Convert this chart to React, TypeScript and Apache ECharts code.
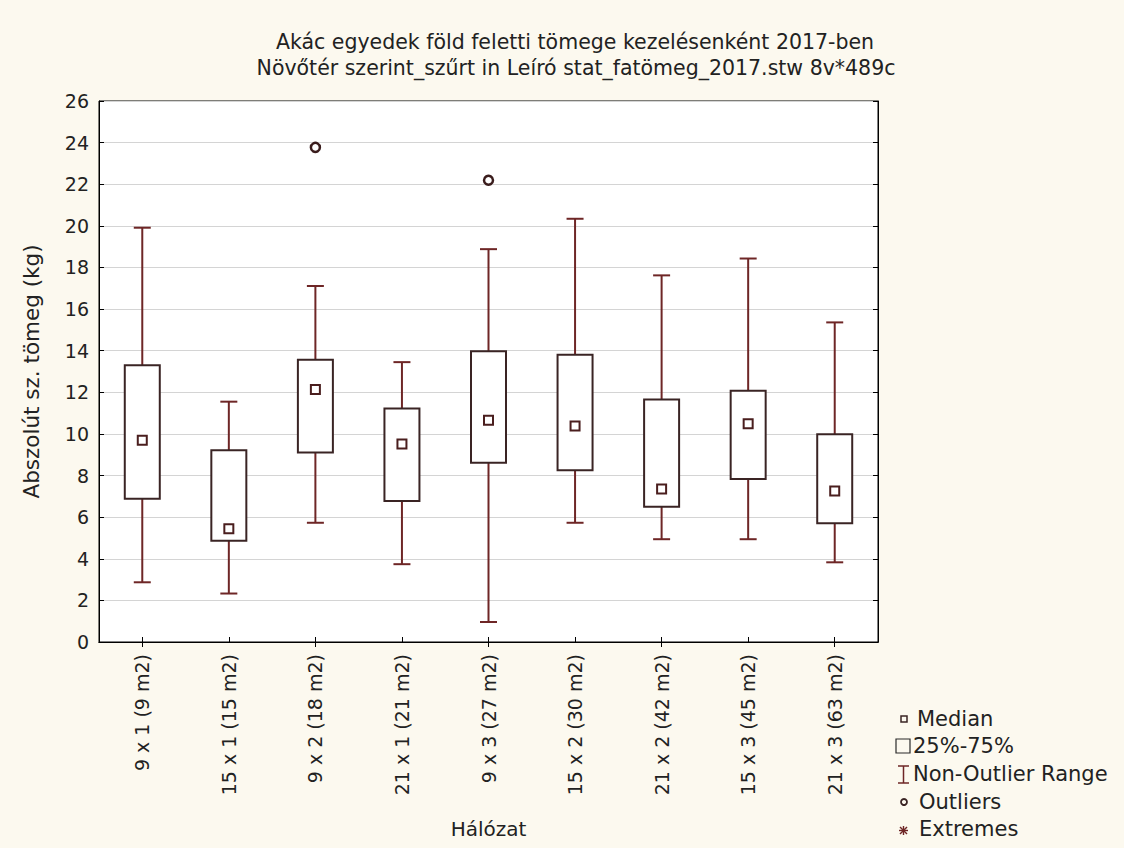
import React, { useEffect, useRef } from "react";
import * as echarts from "echarts";

const categories = [
  "9 x 1 (9 m2)",
  "15 x 1 (15 m2)",
  "9 x 2 (18 m2)",
  "21 x 1 (21 m2)",
  "9 x 3 (27 m2)",
  "15 x 2 (30 m2)",
  "21 x 2 (42 m2)",
  "15 x 3 (45 m2)",
  "21 x 3 (63 m2)",
];
const whiskerLow = [2.87, 2.33, 5.73, 3.74, 0.96, 5.73, 4.94, 4.94, 3.83];
const q1 = [6.88, 4.86, 9.11, 6.78, 8.62, 8.25, 6.5, 7.83, 5.71];
const median = [9.7, 5.44, 12.13, 9.52, 10.66, 10.38, 7.35, 10.49, 7.26];
const q3 = [13.3, 9.22, 13.57, 11.22, 13.97, 13.81, 11.65, 12.08, 9.99];
const whiskerHigh = [19.91, 11.55, 17.11, 13.45, 18.88, 20.34, 17.62, 18.43, 15.36];
const outlierCats = ["9 x 2 (18 m2)", "9 x 3 (27 m2)"];
const outlierVals = [23.77, 22.19];
const yTicks = { min: 0, max: 26, interval: 2 };

const titleLine1 = "Akác egyedek föld feletti tömege kezelésenként 2017-ben";
const titleLine2 = "Növőtér szerint_szűrt in Leíró stat_fatömeg_2017.stw 8v*489c";
const yName = "Abszolút sz. tömeg (kg)";
const xName = "Hálózat";
const legendLabels = ["Median", "25%-75%", "Non-Outlier Range", "Outliers", "Extremes"];

const FONT = "'DejaVu Sans', 'Liberation Sans', Arial, sans-serif";
const BG = "#fcf9ef";
const BOX = "#3a2424";
const WHISK = "#6e2626";
const TXT = "#222222";

export default function App() {
  const ref = useRef<HTMLDivElement>(null);
  useEffect(() => {
    if (!ref.current) return;
    const chart = echarts.init(ref.current, null, { renderer: "svg" });
    const boxData = categories.map((c, i) => [i, whiskerLow[i], q1[i], median[i], q3[i], whiskerHigh[i]]);
    const medData = categories.map((c, i) => [c, median[i]]);
    const outData = outlierCats.map((c, i) => [c, outlierVals[i]]);

    const legendY = [719, 746, 774, 802, 829];
    const legendX = [917, 913, 913, 919, 919];

    chart.setOption({
      animation: false,
      backgroundColor: BG,
      textStyle: { fontFamily: FONT },
      title: [
        {
          text: titleLine1,
          left: 570,
          top: 26,
          textAlign: "center",
          textStyle: { fontSize: 20.5, fontWeight: "normal", color: TXT, fontFamily: FONT },
        },
        {
          text: titleLine2,
          left: 571,
          top: 52,
          textAlign: "center",
          textStyle: { fontSize: 20.5, fontWeight: "normal", color: TXT, fontFamily: FONT },
        },
      ],
      grid: {
        left: 99,
        right: 246,
        top: 101,
        bottom: 206,
        show: true,
        backgroundColor: "#ffffff",
        borderColor: "#000",
        borderWidth: 1,
      },
      xAxis: [
        {
          type: "category",
          data: categories,
          boundaryGap: true,
          axisLine: { show: true, lineStyle: { color: "#000", width: 1 } },
          axisTick: { show: true, inside: true, alignWithLabel: true, length: 5, lineStyle: { color: "#000" } },
          axisLabel: { rotate: 90, fontSize: 19, color: TXT, margin: 12, fontFamily: FONT },
          splitLine: { show: false },
          name: xName,
          nameLocation: "middle",
          nameGap: 177,
          nameTextStyle: { fontSize: 20, color: TXT, fontFamily: FONT },
        },
        {
          type: "category",
          data: categories,
          position: "top",
          boundaryGap: true,
          axisLine: { show: true, lineStyle: { color: "#000", width: 1 } },
          axisTick: { show: true, inside: true, alignWithLabel: true, length: 5, lineStyle: { color: "#000" } },
          axisLabel: { show: false },
        },
      ],
      yAxis: [
        {
          type: "value",
          min: yTicks.min,
          max: yTicks.max,
          interval: yTicks.interval,
          axisLine: { show: true, lineStyle: { color: "#000", width: 1 } },
          axisTick: { show: true, inside: true, length: 5, lineStyle: { color: "#000" } },
          axisLabel: { fontSize: 19, color: TXT, margin: 10, fontFamily: FONT },
          splitLine: { show: true, lineStyle: { color: "#d4d4d4", width: 1 } },
          name: yName,
          nameLocation: "middle",
          nameGap: 57,
          nameTextStyle: { fontSize: 21.5, color: TXT, fontFamily: FONT },
        },
        {
          type: "value",
          position: "right",
          min: yTicks.min,
          max: yTicks.max,
          interval: yTicks.interval,
          axisLine: { show: true, lineStyle: { color: "#000", width: 1 } },
          axisTick: { show: true, inside: true, length: 5, lineStyle: { color: "#000" } },
          axisLabel: { show: false },
          splitLine: { show: false },
        },
      ],
      series: [
        {
          type: "custom",
          xAxisIndex: 0,
          yAxisIndex: 0,
          data: boxData,
          encode: { x: 0, y: [1, 2, 3, 4, 5] },
          renderItem: (params: any, api: any) => {
            const i = api.value(0);
            const pMin = api.coord([i, api.value(1)]);
            const pQ1 = api.coord([i, api.value(2)]);
            const pQ3 = api.coord([i, api.value(4)]);
            const pMax = api.coord([i, api.value(5)]);
            const cx = pMin[0];
            const hw = 17.5;
            const cap = 8.5;
            const ws = { stroke: WHISK, lineWidth: 2 };
            return {
              type: "group",
              children: [
                { type: "line", shape: { x1: cx, y1: pMax[1], x2: cx, y2: pQ3[1] }, style: ws },
                { type: "line", shape: { x1: cx, y1: pQ1[1], x2: cx, y2: pMin[1] }, style: ws },
                { type: "line", shape: { x1: cx - cap, y1: pMax[1], x2: cx + cap, y2: pMax[1] }, style: ws },
                { type: "line", shape: { x1: cx - cap, y1: pMin[1], x2: cx + cap, y2: pMin[1] }, style: ws },
                {
                  type: "rect",
                  shape: { x: cx - hw, y: pQ3[1], width: hw * 2, height: pQ1[1] - pQ3[1] },
                  style: { fill: "#ffffff", stroke: BOX, lineWidth: 2 },
                },
              ],
            };
          },
          z: 2,
        },
        {
          type: "scatter",
          data: medData,
          symbol: "rect",
          symbolSize: 9,
          itemStyle: { color: "#ffffff", borderColor: "#4a1e1e", borderWidth: 2, opacity: 1 },
          z: 3,
        },
        {
          type: "scatter",
          data: outData,
          symbol: "circle",
          symbolSize: 9,
          itemStyle: { color: "#ffffff", borderColor: "#3a1c1c", borderWidth: 2.5, opacity: 1 },
          z: 3,
        },
      ],
      graphic: [
        { type: "rect", shape: { x: 901, y: 716, width: 6, height: 6 }, style: { fill: "none", stroke: BOX, lineWidth: 1.5 } },
        { type: "rect", shape: { x: 896, y: 739, width: 14, height: 14 }, style: { fill: "none", stroke: "#2a2a2a", lineWidth: 1.2 } },
        { type: "line", shape: { x1: 903.5, y1: 766, x2: 903.5, y2: 783 }, style: { stroke: WHISK, lineWidth: 1.5 } },
        { type: "line", shape: { x1: 898, y1: 766, x2: 909, y2: 766 }, style: { stroke: WHISK, lineWidth: 1.5 } },
        { type: "line", shape: { x1: 898, y1: 783, x2: 909, y2: 783 }, style: { stroke: WHISK, lineWidth: 1.5 } },
        { type: "circle", shape: { cx: 904, cy: 802, r: 3 }, style: { fill: "none", stroke: BOX, lineWidth: 1.8 } },
        { type: "line", shape: { x1: 899, y1: 830.5, x2: 908, y2: 830.5 }, style: { stroke: WHISK, lineWidth: 1.4 } },
        { type: "line", shape: { x1: 903.5, y1: 826, x2: 903.5, y2: 835 }, style: { stroke: WHISK, lineWidth: 1.4 } },
        { type: "line", shape: { x1: 900, y1: 827, x2: 907, y2: 834 }, style: { stroke: WHISK, lineWidth: 1.4 } },
        { type: "line", shape: { x1: 907, y1: 827, x2: 900, y2: 834 }, style: { stroke: WHISK, lineWidth: 1.4 } },
        ...legendLabels.map((t, k) => ({
          type: "text",
          x: legendX[k],
          y: legendY[k],
          style: { text: t, fontSize: 21, fill: TXT, fontFamily: FONT, verticalAlign: "middle", align: "left" },
        })),
      ],
    });
    return () => chart.dispose();
  }, []);
  return <div ref={ref} style={{ position: "absolute", left: 0, top: 0, width: 1124, height: 848 }} />;
}
